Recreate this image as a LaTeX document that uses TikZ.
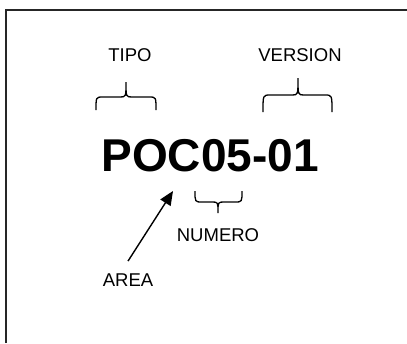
\documentclass[tikz,border=0pt]{standalone}
\usepackage{fontspec}
\setmainfont{Liberation Sans}
\usetikzlibrary{arrows.meta}
\newcommand{\llave}[6]{%
  \draw[line width=1.3pt] (#1,#4) .. controls (#1,#5) .. (#1+7,#5) -- (#3-6,#5)
    .. controls (#3,#5) .. (#3,#6) .. controls (#3,#5) .. (#3+6,#5)
    -- (#2-7,#5) .. controls (#2,#5) .. (#2,#4);}

\begin{document}
\begin{tikzpicture}[x=1pt,y=-1pt,font=\fontsize{18.5}{20}\selectfont,anchor=center,
    flecha/.style={-{Triangle[length=14pt,width=12pt]},line width=1.4pt}]
      \useasboundingbox (0,0) rectangle (407,343);
      \draw[line width=1.6pt,black!85] (6,343) |- (407,10);
      \node (tipo) at (130,55) {TIPO};
      \node (version) at (300,55) {VERSION};
      \node[font=\fontsize{46}{50}\selectfont\bfseries] (codigo) at (210,156) {POC05-01};
      \node (numero) at (218,235) {NUMERO};
      \node (area) at (128,280) {AREA};
      \llave{96}{156}{126}{110}{97}{82}
      \llave{263}{332}{298}{112}{95}{78}
      \llave{195}{242}{218}{191}{202}{213}
      \coordinate (punta) at (173,191);
      \draw[flecha] ([yshift=9pt]area.north) -- (punta);
    \end{tikzpicture}
\end{document}
